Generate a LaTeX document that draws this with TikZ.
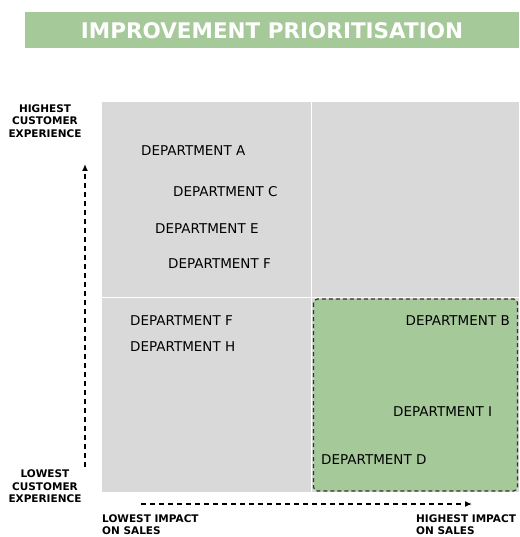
\documentclass[tikz,border=0pt]{standalone}
\usepackage{fontspec}
\setmainfont{DejaVu Sans}
\usetikzlibrary{arrows.meta}
\definecolor{sagegreen}{HTML}{A6C99A}
\definecolor{panelgrey}{HTML}{D9D9D9}
\definecolor{edgegrey}{HTML}{333333}
\tikzset{
  dept/.style={anchor=west,inner sep=0pt,font=\fontsize{13.5}{15}\selectfont},
  axislabel/.style={align=center,inner sep=0pt,font=\bfseries\fontsize{10.5}{12.5}\selectfont},
  salelabel/.style={align=left,anchor=west,inner sep=0pt,font=\bfseries\fontsize{10.5}{12.5}\selectfont},
  axisarrow/.style={dashed,dash pattern=on 5pt off 4pt,line width=1.3pt,-{Latex[length=7pt,width=6pt]}}
}
\begin{document}
\begin{tikzpicture}
\begin{scope}[x=1pt,y=-1pt]
\useasboundingbox (0,0) rectangle (519,537);
% title bar
\fill [sagegreen] (25,12) rectangle (519,48);
\node (title) at (272,30.5) [text=white,inner sep=0pt,font=\bfseries\fontsize{21.5}{24}\selectfont] {IMPROVEMENT PRIORITISATION};
% quadrants
\fill [panelgrey] (102,102) rectangle (519,492);
\draw [white,line width=1.5pt] (311.5,102) -- (311.5,492) (102,297.5) -- (519,297.5);
\filldraw [sagegreen,draw=edgegrey,dashed,dash pattern=on 4pt off 3pt,line width=1.2pt,rounded corners=4pt]
  (313.5,299) rectangle (517.5,491);
% departments
\node (depA)  at (141,151) [dept] {DEPARTMENT A};
\node (depC)  at (173,192) [dept] {DEPARTMENT C};
\node (depE)  at (155,229) [dept] {DEPARTMENT E};
\node (depF)  at (168,264) [dept] {DEPARTMENT F};
\node (depF2) at (130,321) [dept] {DEPARTMENT F};
\node (depH)  at (130,347) [dept] {DEPARTMENT H};
\node (depB)  at (510,321) [dept,anchor=east] {DEPARTMENT B};
\node (depI)  at (393,412) [dept] {DEPARTMENT I};
\node (depD)  at (321,460) [dept] {DEPARTMENT D};
% axes
\node (high) at (45,121) [axislabel] {HIGHEST\\CUSTOMER\\EXPERIENCE};
\node (low)  at (45,486.5) [axislabel] {LOWEST\\CUSTOMER\\EXPERIENCE};
\node (lowsales)  at (102,524.5) [salelabel] {LOWEST IMPACT\\ON SALES};
\node (highsales) at (416,524.5) [salelabel] {HIGHEST IMPACT\\ON SALES};
\coordinate (ybot) at (85,467);
\coordinate (ytop) at (85,164);
\coordinate (xleft) at (141,504);
\coordinate (xright) at (472,504);
\draw [axisarrow] (ybot) -- (ytop);
\draw [axisarrow] (xleft) -- (xright);
\end{scope}
\end{tikzpicture}
\end{document}
